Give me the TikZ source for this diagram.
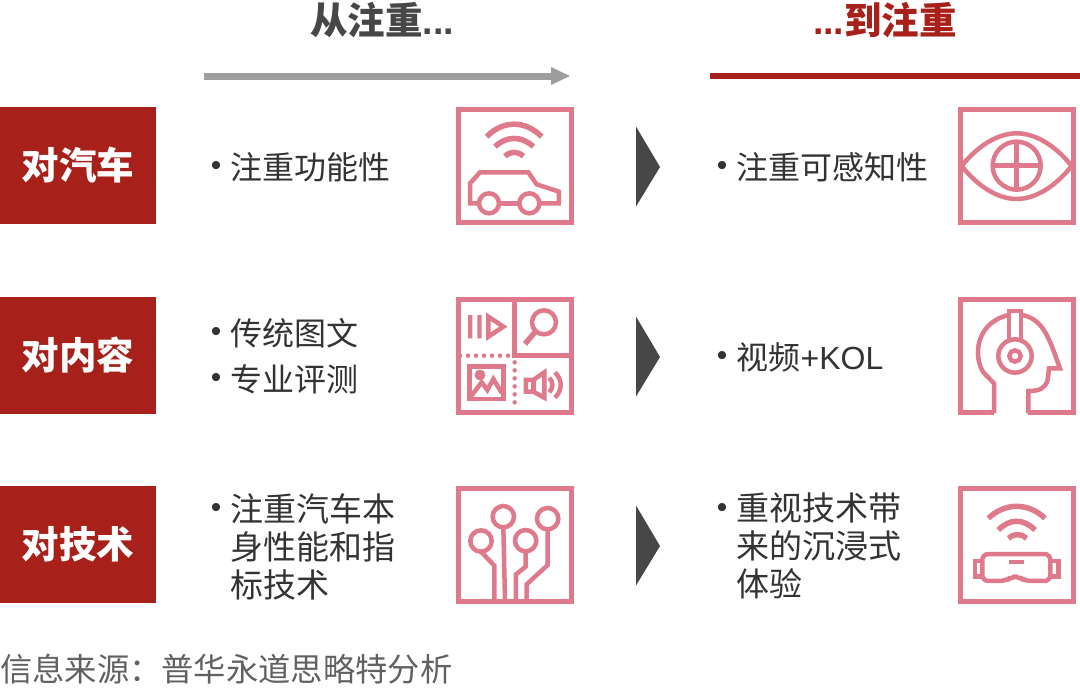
\documentclass[tikz,border=0pt]{standalone}
\usepackage{fontspec}
\setmainfont{Liberation Sans}
\newfontfamily\cjk{Noto Sans CJK SC}
\definecolor{rowred}{HTML}{A8201A}
\definecolor{iconpink}{HTML}{DE7A8B}
\definecolor{textgrey}{HTML}{333333}
\tikzset{
  rowbox/.style={fill=rowred, text=white, minimum width=156pt, minimum height=117pt, inner sep=0pt,
    font=\fontsize{37.5}{42}\selectfont\cjk\bfseries},
  iconbox/.style={draw=iconpink, line width=5pt, minimum size=113pt, inner sep=0pt},
  itemtext/.style={anchor=west, align=left, inner sep=0pt, text=textgrey,
    font=\fontsize{32}{38}\selectfont\cjk},
  itemlong/.style={itemtext, anchor=north west, font=\fontsize{33}{38}\selectfont\cjk},
  itemdot/.style={inner sep=0pt, text=textgrey, font=\fontsize{30}{30}\selectfont},
  headtext/.style={inner sep=0pt, font=\fontsize{37.5}{42}\selectfont\bfseries},
  icon/.style={draw=iconpink, line width=4.5pt, line join=miter},
  wave/.style={icon, line width=5.5pt},
  zoomed/.style={x=0.3333pt, y=-0.3333pt},
}
\begin{document}
\begin{tikzpicture}[x=1pt, y=-1pt]
  \useasboundingbox (0,0) rectangle (1080,689);

  % headers
  \node[headtext, text=textgrey!90] (fromhead) at (382,20) {{\cjk\bfseries 从注重}...};
  \node[headtext, text=rowred] (tohead) at (885,20) {...{\cjk\bfseries 到注重}};
  \coordinate (fromstart) at (204,76);
  \coordinate (fromend) at (552,76);
  \coordinate (fromtip) at (570,76);
  \coordinate (tostart) at (710,76);
  \coordinate (toend) at (1080,76);
  \draw[line width=7pt, color=black!38] (fromstart) -- (fromend);
  \fill[black!38] (fromtip) -- (551,67) -- (551,85) -- cycle;
  \draw[line width=6pt, rowred] (tostart) -- (toend);

  % rows
  \foreach \cy/\lab/\nm in {165.5/对汽车/car, 355.5/对内容/content, 544.5/对技术/tech} {
    \node[rowbox] (\nm row) at (78,\cy) {\raisebox{-1.5pt}{\lab}};
    \node[iconbox] (\nm left) at (514.5,\cy) {};
    \fill[black!72] (636,{\cy-39}) -- (660,{\cy+1.5}) -- (636,{\cy+41}) -- cycle;
  }
  \node[iconbox] (carright) at (1017,165.5) {};
  \node[iconbox] (techright) at (1017,544.5) {};
  \draw[icon, line width=5pt] (994,412.5) -- (960.5,412.5) -- (960.5,299.5) -- (1073.5,299.5) -- (1073.5,412.5) -- (1028,412.5);

  % texts
  \foreach \x/\y in {216/168, 216/334, 216/380, 216/510, 722/168, 722/358, 722/510} {
    \node[itemdot] at (\x,\y) {•};
  }
  \node[itemtext] (carfrom) at (230.5,167) {注重功能性};
  \node[itemtext] (contentfroma) at (230.5,333) {传统图文};
  \node[itemtext] (contentfromb) at (230.5,379) {专业评测};
  \node[itemlong] (techfrom) at (230.5,493) {注重汽车本\\身性能和指\\标技术};
  \node[itemtext] (carto) at (736.5,167) {注重可感知性};
  \node[itemtext] (contentto) at (736.5,357) {视频{\rmfamily +KOL}};
  \node[itemlong] (techto) at (736.5,493) {重视技术带\\来的沉浸式\\体验};
  \node[anchor=west, inner sep=0pt, text=black!62, font=\fontsize{32.3}{38}\selectfont\cjk] (source) at (0,669) {信息来源：普华永道思略特分析};

  % car
  \begin{scope}[shift={(440,95)}, zoomed]
    \draw[wave] (140,125) .. controls (190,75) and (255,75) .. (305,125);
    \draw[wave] (165,155) .. controls (200,122) and (245,122) .. (280,155);
    \draw[wave] (195,184) .. controls (210,168) and (235,168) .. (250,184);
    \draw[icon] (118,325) -- (90,325) -- (90,265) -- (120,232) -- (265,232) -- (290,268) -- (357,290) -- (357,325) -- (298,325);
    \draw[icon] (177,325) -- (238,325);
    \draw[icon] (147,325) circle (30);
    \draw[icon] (268,325) circle (30);
  \end{scope}

  % content
  \begin{scope}[shift={(440,285)}, zoomed]
    \draw[icon, line width=5pt] (224,40) -- (224,212) -- (395,212);
    \draw[icon, line width=4.5pt, line cap=round, dash pattern=on 0pt off 8pt] (60,212) -- (212,212);
    \draw[icon, line width=4.5pt, line cap=round, dash pattern=on 0pt off 8pt] (224,232) -- (224,376);
    \fill[iconpink] (84,90) rectangle (97,160) (112,90) rectangle (125,160);
    \draw[icon] (145,95) -- (190,125) -- (145,155) -- cycle;
    \draw[icon] (312,112) circle (36);
    \draw[icon, line width=5.5pt] (286,140) -- (255,177);
    \draw[icon] (88,245) rectangle (190,342);
    \draw[icon] (92,335) -- (125,292) -- (142,315) -- (160,282) -- (186,325);
    \draw[icon] (120,270) circle (9);
    \draw[icon] (258,285) -- (280,285) -- (313,262) -- (313,338) -- (280,320) -- (258,320) -- cycle;
    \draw[icon] (280,285) -- (280,320);
    \draw[icon] (328,278) .. controls (340,290) and (340,310) .. (328,322);
    \draw[icon] (345,262) .. controls (368,285) and (368,315) .. (345,338);
  \end{scope}

  % circuit
  \begin{scope}[shift={(440,475)}, zoomed]
    \foreach \cx/\cyy in {190/125, 123/198, 257/197, 323/131} {
      \draw[icon] (\cx,\cyy) circle (32);
    }
    \draw[icon] (190,157) -- (195,375);
    \draw[icon] (123,230) -- (163,272) -- (163,375);
    \draw[icon] (257,229) -- (257,275) -- (228,298) -- (228,375);
    \draw[icon] (323,163) -- (323,270) -- (260,328) -- (260,375);
  \end{scope}

  % eye
  \begin{scope}[shift={(945,95)}, zoomed]
    \draw[icon] (50,213) .. controls (100,150) and (160,115) .. (215,115) .. controls (270,115) and (330,150) .. (380,213);
    \draw[icon] (50,213) .. controls (100,276) and (160,312) .. (215,312) .. controls (270,312) and (330,276) .. (380,213);
    \draw[icon] (215,212) circle (72);
    \draw[icon] (215,140) -- (215,284);
    \draw[icon] (143,212) -- (287,212);
  \end{scope}

  % head
  \begin{scope}[shift={(945,285)}, zoomed]
    \draw[icon] (147,385) -- (147,295) -- (115,262) .. controls (85,215) and (90,115) .. (190,90);
    \draw[icon] (233,90) .. controls (300,105) and (315,170) .. (345,250) -- (312,250) -- (308,285) .. controls (300,310) and (285,318) .. (250,318) -- (250,385);
    \draw[icon] (192,165) -- (192,78) -- (228,78) -- (228,165);
    \draw[icon] (186,78) -- (234,78);
    \draw[icon] (210,213) circle (50);
    \draw[icon] (210,213) circle (17);
  \end{scope}

  % goggles
  \begin{scope}[shift={(945,475)}, zoomed]
    \draw[wave] (130,130) .. controls (180,82) and (250,82) .. (300,130);
    \draw[wave] (160,165) .. controls (195,130) and (235,130) .. (270,165);
    \draw[wave] (190,190) .. controls (205,175) and (230,175) .. (245,190);
    \draw[icon, rounded corners=6pt] (112,237) -- (316,237) -- (316,318) -- (240,318) -- (222,305) -- (200,305) -- (182,318) -- (112,318) -- cycle;
    \draw[icon] (112,258) -- (90,258) -- (90,305) -- (112,305);
    \draw[icon] (316,258) -- (340,258) -- (340,305) -- (316,305);
    \fill[iconpink] (192,256) rectangle (238,268);
  \end{scope}
\end{tikzpicture}
\end{document}
